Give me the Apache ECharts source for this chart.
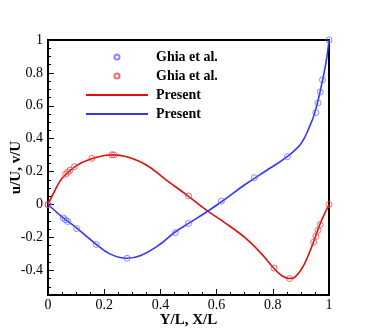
<!DOCTYPE html>
<html>
<head>
<meta charset="utf-8">
<script src="https://cdn.jsdelivr.net/npm/echarts@6/dist/echarts.min.js"></script>
<style>
  html, body { margin: 0; padding: 0; background: #fff; }
  #chart { width: 374px; height: 332px; }
</style>
</head>
<body>
<div id="chart"></div>
<script>
// Ghia et al. u (blue) along the vertical centreline
const ghiaUx = [0, 0.0547, 0.0625, 0.0703, 0.1016, 0.1719, 0.2813, 0.4531, 0.5, 0.6172, 0.7344, 0.8516, 0.9531, 0.9609, 0.9688, 0.9766, 1];
const ghiaUy = [0, -0.082, -0.093, -0.103, -0.146, -0.243, -0.327, -0.171, -0.115, 0.021, 0.163, 0.291, 0.559, 0.618, 0.684, 0.758, 1];
// Ghia et al. v (red) along the horizontal centreline
const ghiaVx = [0, 0.0625, 0.0703, 0.0781, 0.0938, 0.1563, 0.2266, 0.2344, 0.5, 0.8047, 0.8594, 0.9453, 0.9531, 0.9609, 0.9688, 1];
const ghiaVy = [0, 0.184, 0.197, 0.209, 0.230, 0.281, 0.302, 0.302, 0.052, -0.386, -0.450, -0.228, -0.193, -0.157, -0.121, 0];
// Present results
const presVx = [0, 0.02, 0.05, 0.1, 0.15, 0.2, 0.23, 0.28, 0.35, 0.42, 0.5, 0.56, 0.62, 0.7, 0.76, 0.8, 0.83, 0.86, 0.88, 0.91, 0.94, 0.97, 1];
const presVy = [0, 0.07, 0.16, 0.235, 0.275, 0.298, 0.302, 0.29, 0.24, 0.15, 0.05, -0.03, -0.1, -0.2, -0.3, -0.38, -0.43, -0.45, -0.44, -0.37, -0.25, -0.11, 0];
const presUx = [0, 0.05, 0.1, 0.17, 0.22, 0.28, 0.33, 0.4, 0.45, 0.5, 0.56, 0.62, 0.7, 0.78, 0.85, 0.9, 0.93, 0.95, 0.97, 0.99, 1];
const presUy = [0, -0.075, -0.14, -0.24, -0.3, -0.327, -0.31, -0.24, -0.17, -0.115, -0.05, 0.02, 0.12, 0.21, 0.29, 0.37, 0.47, 0.56, 0.7, 0.87, 1];
const yMajor = [-0.4, -0.2, 0, 0.2, 0.4, 0.6, 0.8, 1];

const pair = (xs, ys) => xs.map((x, i) => [x, ys[i]]);
const font = "'Liberation Serif', 'Times New Roman', serif";
const blueLine = '#3535ff', redLine = '#dd1010';
const blueMark = '#6a6aff', redMark = '#e04848';

const chart = echarts.init(document.getElementById('chart'));
chart.setOption({
  animation: false,
  grid: { left: 48, right: 45, top: 40, bottom: 37, outerBoundsMode: 'none', show: true,
          borderColor: '#000', borderWidth: 2, backgroundColor: 'transparent' },
  legend: {
    orient: 'vertical', left: 80, top: 45, itemWidth: 62, itemHeight: 5, itemGap: 5,
    textStyle: { fontFamily: font, fontSize: 14, fontWeight: 'bold', color: '#000', padding: [0, 0, 0, 3] },
    data: [
      { name: 'Ghia et al.' },
      { name: 'Ghia et al. ' },
      { name: 'Present', itemStyle: { opacity: 0 } },
      { name: 'Present ', itemStyle: { opacity: 0 } }
    ]
  },
  xAxis: {
    type: 'value', min: 0, max: 1, interval: 0.2,
    name: 'Y/L, X/L', nameLocation: 'middle', nameGap: 18, nameMoveOverlap: false,
    nameTextStyle: { fontFamily: font, fontSize: 15, fontWeight: 'bold', color: '#000', verticalAlign: 'top' },
    axisLine: { onZero: false, lineStyle: { color: '#000', width: 2 } },
    axisTick: { inside: true, length: 6, lineStyle: { color: '#000' } },
    minorTick: { show: true, splitNumber: 4, length: 3, lineStyle: { color: '#000' } },
    axisLabel: { fontFamily: font, fontSize: 14, color: '#000', margin: 3 },
    splitLine: { show: false }
  },
  yAxis: [{
    type: 'value', min: -0.55, max: 1,
    name: 'u/U, v/U', nameLocation: 'middle', nameGap: 24, nameMoveOverlap: false,
    nameTextStyle: { fontFamily: font, fontSize: 15, fontWeight: 'bold', color: '#000' },
    axisLine: { onZero: false, lineStyle: { color: '#000', width: 2 } },
    axisTick: { inside: true, length: 6, customValues: yMajor, lineStyle: { color: '#000' } },
    axisLabel: { fontFamily: font, fontSize: 14, color: '#000', margin: 5, customValues: yMajor },
    splitLine: { show: false }
  }, {
    type: 'value', min: -0.55, max: 1, interval: 0.05, position: 'left', offset: 0,
    axisLine: { show: false, onZero: false },
    axisTick: { inside: true, length: 3, lineStyle: { color: '#000' } },
    axisLabel: { show: false },
    splitLine: { show: false }
  }],
  series: [
    { name: 'Ghia et al.', type: 'scatter', data: pair(ghiaUx, ghiaUy), symbol: 'circle', symbolSize: 6,
      itemStyle: { color: 'transparent', borderColor: blueMark, borderWidth: 1 }, z: 3 },
    { name: 'Ghia et al. ', type: 'scatter', data: pair(ghiaVx, ghiaVy), symbol: 'circle', symbolSize: 6,
      itemStyle: { color: 'transparent', borderColor: redMark, borderWidth: 1 }, z: 3 },
    { name: 'Present', type: 'line', data: pair(presVx, presVy), smooth: 0.4, symbol: 'none',
      lineStyle: { color: redLine, width: 1.6 }, itemStyle: { color: redLine } },
    { name: 'Present ', type: 'line', data: pair(presUx, presUy), smooth: 0.4, symbol: 'none',
      lineStyle: { color: blueLine, width: 1.6 }, itemStyle: { color: blueLine } }
  ]
});
</script>
</body>
</html>
